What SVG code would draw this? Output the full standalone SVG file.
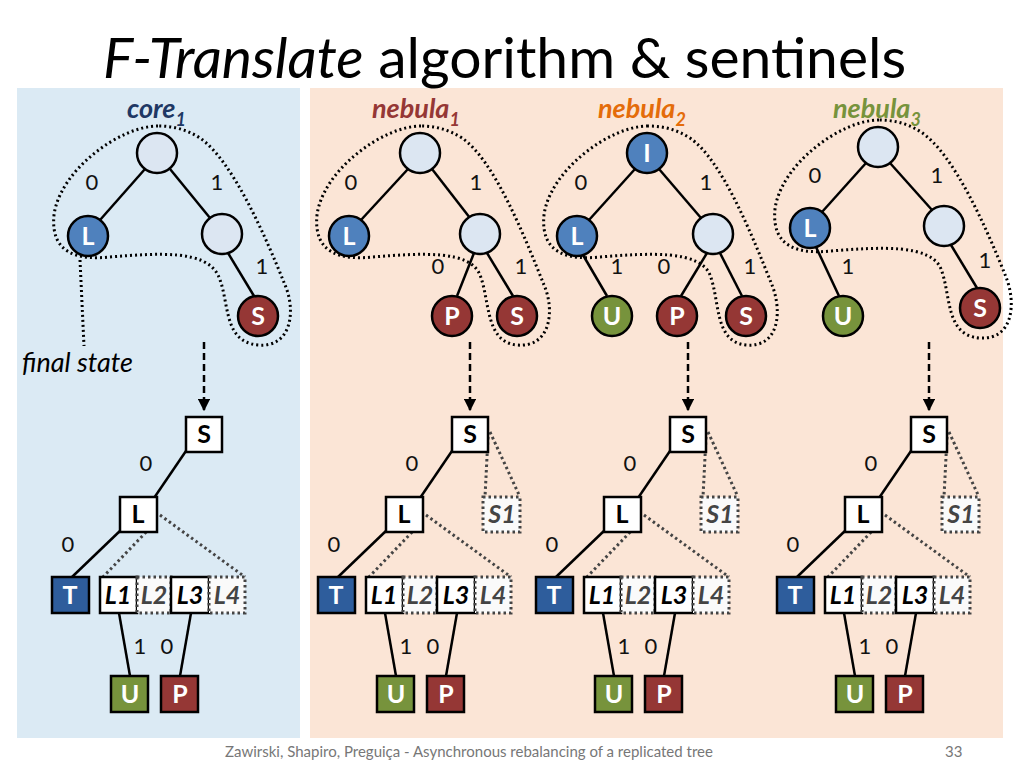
<svg xmlns="http://www.w3.org/2000/svg" width="1024" height="768" viewBox="0 0 1024 768">
<defs>
<style>
.t{font-family:Lato,"Open Sans",sans-serif}
.lb{font-family:Lato,sans-serif;font-size:22px;fill:#111;text-anchor:middle}
.c{stroke:#000;stroke-width:2.5}
.lt{fill:#dce6f2}.bl{fill:#4f81bd}.rd{fill:#953735}.gr{fill:#77933c}.db{fill:#2e5d9c}
.nt{font-family:Lato,sans-serif;font-weight:bold;font-size:25px;fill:#fff;text-anchor:middle}
.bt{font-family:Lato,sans-serif;font-weight:bold;font-size:25px;fill:#000;text-anchor:middle}
.it{font-family:Lato,sans-serif;font-weight:bold;font-style:italic;font-size:25px;text-anchor:middle}
.e{stroke:#000;stroke-width:2.5;fill:none}
.dot{stroke:#000;stroke-width:3;stroke-dasharray:2 3;fill:none}
.gd{stroke:#444;stroke-width:3;stroke-dasharray:2.5 3;fill:none}
.box{fill:#fff;stroke:#000;stroke-width:2.5}
.dbox{fill:#fafafa;stroke:#444;stroke-width:3;stroke-dasharray:2.5 3}
.arr{stroke:#000;stroke-width:2.5;stroke-dasharray:7 4;fill:none}
</style>
<marker id="ah" viewBox="0 0 10 10" refX="9" refY="5" markerWidth="5" markerHeight="5" orient="auto"><path d="M0,0L10,5L0,10z" fill="#000"/></marker>
</defs>
<rect width="1024" height="768" fill="#fff"/>
<rect x="17" y="88" width="283" height="650" fill="#dbeaf4"/>
<rect x="310" y="88" width="693" height="650" fill="#fbe5d6"/>
<text class="t" x="103" y="78" font-size="57" fill="#000"><tspan font-style="italic">F-Translate</tspan> algorithm &amp; sentinels</text>
<g class="t" font-weight="bold" font-style="italic" font-size="27">
<text x="127" y="118" fill="#1f3864">core<tspan font-size="18" dy="8">1</tspan></text>
<text x="372" y="118" fill="#953735">nebula<tspan font-size="18" dy="8">1</tspan></text>
<text x="598" y="118" fill="#e46c0a">nebula<tspan font-size="18" dy="8">2</tspan></text>
<text x="833" y="118" fill="#77933c">nebula<tspan font-size="18" dy="8">3</tspan></text>
</g>
<text class="t" x="22" y="372" font-size="27" font-style="italic" fill="#000">final state</text>

<g id="connectors">
<line class="e" x1="145" y1="169" x2="100" y2="220"/><line class="e" x1="170" y1="169" x2="210" y2="218"/><line class="e" x1="228" y1="253" x2="254" y2="296"/>
<line class="e" x1="408" y1="169" x2="361" y2="220"/><line class="e" x1="432" y1="169" x2="470" y2="218"/><line class="e" x1="474" y1="253" x2="457" y2="296"/><line class="e" x1="487" y1="253" x2="513" y2="296"/>
<line class="e" x1="635" y1="169" x2="589" y2="220"/><line class="e" x1="659" y1="169" x2="701" y2="218"/><line class="e" x1="583" y1="255" x2="607" y2="296"/><line class="e" x1="707" y1="253" x2="681" y2="296"/><line class="e" x1="720" y1="253" x2="742" y2="296"/>
<line class="e" x1="866" y1="163" x2="822" y2="212"/><line class="e" x1="890" y1="163" x2="932" y2="210"/><line class="e" x1="816" y1="247" x2="839" y2="296"/><line class="e" x1="951" y1="245" x2="977" y2="288"/>
<path class="dot" d="M158,126 C120,126 60,170 54,215 C50,255 80,260 110,257 C160,253 205,250 218,275 C230,300 222,342 258,345 C292,348 296,310 285,285 C265,235 232,160 200,138 C186,129 172,126 158,126Z"/>
<path class="dot" d="M421,126 C383,126 323,170 317,215 C313,255 343,260 373,257 C423,253 470,250 480,275 C490,300 485,342 517,345 C551,348 555,310 544,285 C524,235 494,160 462,138 C448,129 434,126 421,126Z"/>
<path class="dot" d="M648,126 C610,126 550,170 544,215 C540,255 570,260 600,257 C650,253 700,250 710,275 C720,300 714,342 746,345 C780,348 782,310 772,285 C752,235 722,160 690,138 C676,129 662,126 648,126Z"/>
<path class="dot" d="M879,120 C841,120 781,164 775,209 C771,249 801,254 831,251 C881,247 931,244 941,269 C951,294 945,336 980,338 C1014,340 1016,302 1006,277 C986,227 954,154 921,132 C907,123 893,120 879,120Z"/>
<line class="dot" x1="80" y1="260" x2="84" y2="346"/>
<line class="arr" x1="204" y1="342" x2="204" y2="410" marker-end="url(#ah)"/>
<line class="arr" x1="470" y1="342" x2="470" y2="410" marker-end="url(#ah)"/>
<line class="arr" x1="688" y1="342" x2="688" y2="410" marker-end="url(#ah)"/>
<line class="arr" x1="929" y1="342" x2="929" y2="410" marker-end="url(#ah)"/>
<g id="conn-b0">
<line class="e" x1="188" y1="448" x2="154" y2="498"/><line class="e" x1="122" y1="529" x2="72" y2="577"/>
<line class="gd" x1="160" y1="515" x2="245" y2="577"/><line class="gd" x1="150" y1="528" x2="103" y2="577"/>
<line class="e" x1="119" y1="613" x2="130" y2="676"/><line class="e" x1="191" y1="613" x2="180" y2="676"/>
</g>
<g transform="translate(266,0)"><use href="#conn-b0"/><line class="gd" x1="222" y1="437" x2="219" y2="497"/><line class="gd" x1="224" y1="432" x2="254" y2="497"/></g>
<g transform="translate(484,0)"><use href="#conn-b0"/><line class="gd" x1="222" y1="437" x2="219" y2="497"/><line class="gd" x1="224" y1="432" x2="254" y2="497"/></g>
<g transform="translate(725,0)"><use href="#conn-b0"/><line class="gd" x1="222" y1="437" x2="219" y2="497"/><line class="gd" x1="224" y1="432" x2="254" y2="497"/></g>
</g>

<g id="edge-labels">
<text class="lb" x="92" y="190">0</text><text class="lb" x="217" y="190">1</text><text class="lb" x="262" y="274">1</text>
<text class="lb" x="351" y="190">0</text><text class="lb" x="476" y="190">1</text><text class="lb" x="438" y="274">0</text><text class="lb" x="521" y="274">1</text>
<text class="lb" x="581" y="190">0</text><text class="lb" x="706" y="190">1</text><text class="lb" x="617" y="274">1</text><text class="lb" x="664" y="274">0</text><text class="lb" x="750" y="274">1</text>
<text class="lb" x="815" y="183">0</text><text class="lb" x="937" y="183">1</text><text class="lb" x="848" y="274">1</text><text class="lb" x="985" y="268">1</text>
<g id="bl0"><text class="lb" x="146" y="471">0</text><text class="lb" x="68" y="552">0</text><text class="lb" x="140" y="654">1</text><text class="lb" x="167" y="654">0</text></g>
<use href="#bl0" x="266"/><use href="#bl0" x="484"/><use href="#bl0" x="725"/>
</g>

<g id="core-root"><circle class="c lt" cx="157" cy="153" r="20"/></g>
<g id="core-L"><circle class="c bl" cx="88" cy="236" r="20"/><text class="nt" x="88" y="245">L</text></g>
<g id="core-R"><circle class="c lt" cx="222" cy="234" r="20"/></g>
<g id="core-S"><circle class="c rd" cx="258" cy="316" r="20"/><text class="nt" x="258" y="325">S</text></g>

<g id="n1-root"><circle class="c lt" cx="420" cy="153" r="20"/></g>
<g id="n1-L"><circle class="c bl" cx="349" cy="236" r="20"/><text class="nt" x="349" y="245">L</text></g>
<g id="n1-R"><circle class="c lt" cx="480" cy="234" r="20"/></g>
<g id="n1-P"><circle class="c rd" cx="452" cy="316" r="20"/><text class="nt" x="452" y="325">P</text></g>
<g id="n1-S"><circle class="c rd" cx="517" cy="316" r="20"/><text class="nt" x="517" y="325">S</text></g>

<g id="n2-root"><circle class="c bl" cx="647" cy="153" r="20"/><text class="nt" x="647" y="162">I</text></g>
<g id="n2-L"><circle class="c bl" cx="577" cy="236" r="20"/><text class="nt" x="577" y="245">L</text></g>
<g id="n2-R"><circle class="c lt" cx="713" cy="234" r="20"/></g>
<g id="n2-U"><circle class="c gr" cx="612" cy="316" r="20"/><text class="nt" x="612" y="325">U</text></g>
<g id="n2-P"><circle class="c rd" cx="677" cy="316" r="20"/><text class="nt" x="677" y="325">P</text></g>
<g id="n2-S"><circle class="c rd" cx="746" cy="316" r="20"/><text class="nt" x="746" y="325">S</text></g>

<g id="n3-root"><circle class="c lt" cx="878" cy="147" r="20"/></g>
<g id="n3-L"><circle class="c bl" cx="810" cy="228" r="20"/><text class="nt" x="810" y="237">L</text></g>
<g id="n3-R"><circle class="c lt" cx="944" cy="226" r="20"/></g>
<g id="n3-U"><circle class="c gr" cx="843" cy="316" r="20"/><text class="nt" x="843" y="325">U</text></g>
<g id="n3-S"><circle class="c rd" cx="980" cy="308" r="20"/><text class="nt" x="980" y="317">S</text></g>

<g id="bt0">
<g id="b0-S"><rect class="box" x="186" y="417" width="36" height="35"/><text class="bt" x="204" y="443">S</text></g>
<g id="b0-L"><rect class="box" x="120" y="497" width="37" height="35"/><text class="bt" x="138" y="523">L</text></g>
<g id="b0-T"><rect class="c db" x="52" y="577" width="37" height="36"/><text class="nt" x="70" y="604">T</text></g>
<g id="b0-L1"><rect class="box" x="100" y="577" width="37" height="36"/><text class="it" x="118" y="604" fill="#000">L1</text></g>
<g id="b0-L2"><rect class="dbox" x="137" y="577" width="34" height="36"/><text class="it" x="154" y="604" fill="#444">L2</text></g>
<g id="b0-L3"><rect class="box" x="171" y="577" width="38" height="36"/><text class="it" x="190" y="604" fill="#000">L3</text></g>
<g id="b0-L4"><rect class="dbox" x="209" y="577" width="36" height="36"/><text class="it" x="227" y="604" fill="#444">L4</text></g>
<g id="b0-U"><rect class="c gr" x="111" y="676" width="37" height="36"/><text class="nt" x="130" y="703">U</text></g>
<g id="b0-P"><rect class="c rd" x="161" y="676" width="37" height="36"/><text class="nt" x="180" y="703">P</text></g>
</g>
<g id="bt1" transform="translate(266,0)"><use href="#bt0"/><g id="b1-S1"><rect class="dbox" x="217" y="497" width="37" height="35"/><text class="it" x="236" y="523" fill="#444">S1</text></g></g>
<g id="bt2" transform="translate(484,0)"><use href="#bt0"/><g id="b2-S1"><rect class="dbox" x="217" y="497" width="37" height="35"/><text class="it" x="236" y="523" fill="#444">S1</text></g></g>
<g id="bt3" transform="translate(725,0)"><use href="#bt0"/><g id="b3-S1"><rect class="dbox" x="217" y="497" width="37" height="35"/><text class="it" x="236" y="523" fill="#444">S1</text></g></g>

<text class="t" x="225" y="757" font-size="15" fill="#777">Zawirski, Shapiro, Preguiça - Asynchronous rebalancing of a replicated tree</text>
<text class="t" x="945" y="757" font-size="15" fill="#777">33</text>
</svg>
